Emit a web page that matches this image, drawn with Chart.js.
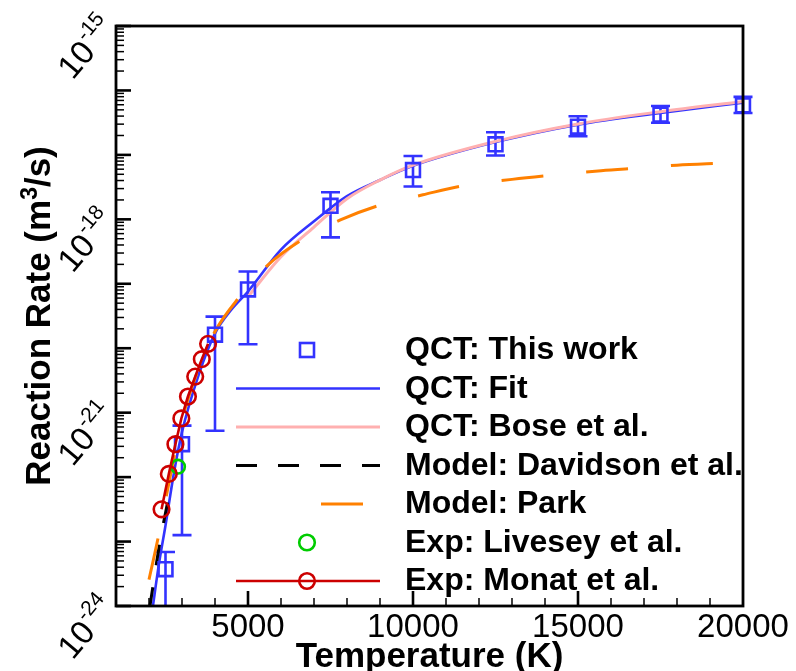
<!DOCTYPE html>
<html>
<head>
<meta charset="utf-8">
<script src="https://cdn.jsdelivr.net/npm/chart.js@4.4.1/dist/chart.umd.min.js"></script>
<style>
  html, body { margin: 0; padding: 0; background: #fff; }
  #wrap { width: 796px; height: 671px; }
</style>
</head>
<body>
<div id="wrap"><canvas id="chart" width="796" height="671"></canvas></div>
<script>
// --- data (rates in m^3/s, temperature in K) ---
const qctT  = [2500, 3000, 4000, 5000, 7500, 10000, 12500, 15000, 17500, 20000];
const qctK  = [3.72e-24, 3.24e-22, 1.62e-20, 8.18e-20, 1.62e-18, 5.82e-18, 1.46e-17, 2.74e-17, 4.21e-17, 5.89e-17];
const qctHi = [6.9e-24, 6.3e-22, 3.09e-20, 1.55e-19, 2.63e-18, 9.6e-18, 2.24e-17, 3.98e-17, 5.75e-17, 7.94e-17];
const qctLo = [5.0e-25, 1.26e-23, 5.25e-22, 1.15e-20, 5.25e-19, 3.24e-18, 9.8e-18, 1.95e-17, 3.16e-17, 4.47e-17];

const fitT = [2100, 2300, 2500, 2750, 3000, 3500, 4000, 4500, 5000, 6000, 7000, 8000, 9000, 10000, 12500, 15000, 17500, 20000];
const fitK = [8.5e-25, 4.47e-24, 1.78e-23, 1.12e-22, 5.01e-22, 3.8e-21, 1.7e-20, 3.98e-20, 7.59e-20, 3.39e-19, 9.33e-19, 2.29e-18, 4.07e-18, 6.76e-18, 1.58e-17, 2.95e-17, 4.47e-17, 6.46e-17];

const boseT = [5000, 6000, 7000, 8000, 9000, 10000, 12500, 15000, 17500, 20000];
const boseK = [6.31e-20, 2.63e-19, 7.59e-19, 2.09e-18, 4.07e-18, 6.92e-18, 1.62e-17, 3.02e-17, 4.68e-17, 6.76e-17];

const davT = [2020, 2320, 2580];
const davK = [9.33e-25, 9.12e-24, 4.47e-23];

const parkT = [2000, 2273, 2600, 3000, 3500, 4000, 4750, 5600, 6600, 7800, 9000, 10300, 11500, 13000, 14300, 15700, 17000, 18000, 19300, 20000];
const parkK = [2.57e-24, 1.12e-23, 7.94e-23, 7.59e-22, 4.79e-21, 1.82e-20, 6.31e-20, 1.95e-19, 4.68e-19, 9.77e-19, 1.66e-18, 2.4e-18, 3.31e-18, 4.17e-18, 4.9e-18, 5.69e-18, 6.31e-18, 6.92e-18, 7.41e-18, 7.67e-18];

const liveseyT = [2880];
const liveseyK = [1.45e-22];

const monatT = [2380, 2600, 2800, 2980, 3180, 3400, 3600, 3790];
const monatK = [3.16e-23, 1.12e-22, 3.24e-22, 8.13e-22, 1.78e-21, 3.63e-21, 6.76e-21, 1.17e-20];

const xMajor = [5000, 10000, 15000, 20000];
const yLabelExps = [-24, -21, -18, -15];

const legendItems = [
  "QCT: This work", "QCT: Fit", "QCT: Bose et al.", "Model: Davidson et al.",
  "Model: Park", "Exp: Livesey et al.", "Exp: Monat et al.",
];

const BLUE = "#3333ff", PINK = "#ffb0b0", ORANGE = "#ff8000", RED = "#cc0000", GREEN = "#00cc00";
const FONT = '"Liberation Sans", Arial, Helvetica, sans-serif';
const pts = (xs, ys) => xs.map((x, i) => ({ x, y: ys[i] }));

// error bars, frame, ticks, labels, legend
const decor = {
  id: "decor",
  beforeDatasetsDraw(chart) {
    const { ctx, chartArea: a, scales: { x, y } } = chart;
    ctx.save();
    ctx.beginPath();
    ctx.rect(0, a.top, chart.width, a.bottom - a.top);
    ctx.clip();
    ctx.strokeStyle = BLUE;
    ctx.lineWidth = 2.6;
    qctT.forEach((t, i) => {
      const px = x.getPixelForValue(t);
      const hi = y.getPixelForValue(qctHi[i]);
      const lo = y.getPixelForValue(qctLo[i]);
      ctx.beginPath();
      ctx.moveTo(px, hi); ctx.lineTo(px, lo);
      ctx.moveTo(px - 9.5, hi); ctx.lineTo(px + 9.5, hi);
      ctx.moveTo(px - 9.5, lo); ctx.lineTo(px + 9.5, lo);
      ctx.stroke();
    });
    ctx.restore();
  },
  afterDraw(chart) {
    const { ctx, chartArea: a, scales: { x, y } } = chart;
    ctx.save();
    // frame
    ctx.strokeStyle = "#000";
    ctx.lineWidth = 2.8;
    ctx.strokeRect(a.left, a.top, a.right - a.left, a.bottom - a.top);

    // y ticks (inward, left side)
    for (let e = -24; e <= -15; e++) {
      const py = y.getPixelForValue(Math.pow(10, e));
      ctx.lineWidth = 2.6;
      ctx.beginPath(); ctx.moveTo(a.left, py); ctx.lineTo(a.left + 15, py); ctx.stroke();
      if (e === -15) break;
      ctx.lineWidth = 1.5;
      for (let m = 2; m <= 9; m++) {
        const my = y.getPixelForValue(m * Math.pow(10, e));
        ctx.beginPath(); ctx.moveTo(a.left, my); ctx.lineTo(a.left + 8, my); ctx.stroke();
      }
    }
    // x ticks (inward, bottom side)
    for (let t = 2000; t < 20000; t += 1000) {
      const px = x.getPixelForValue(t);
      const major = t % 5000 === 0;
      ctx.lineWidth = major ? 2.6 : 1.5;
      ctx.beginPath(); ctx.moveTo(px, a.bottom); ctx.lineTo(px, a.bottom - (major ? 15 : 8)); ctx.stroke();
    }

    // x tick labels
    ctx.fillStyle = "#000";
    ctx.font = `33px ${FONT}`;
    ctx.textAlign = "center";
    ctx.textBaseline = "alphabetic";
    xMajor.forEach((t) => ctx.fillText(String(t), x.getPixelForValue(t), 637));

    // y tick labels, rotated 10^e
    yLabelExps.forEach((e) => {
      const py = y.getPixelForValue(Math.pow(10, e));
      ctx.save();
      ctx.translate(86, py + 22);
      ctx.rotate(-50 * Math.PI / 180);
      ctx.textAlign = "left";
      ctx.font = `33px ${FONT}`;
      const w1 = ctx.measureText("10").width;
      ctx.font = `21px ${FONT}`;
      const exp = String(e);
      const w2 = ctx.measureText(exp).width;
      const x0 = -(w1 + w2) / 2;
      ctx.font = `33px ${FONT}`;
      ctx.fillText("10", x0, 11);
      ctx.font = `21px ${FONT}`;
      ctx.fillText(exp, x0 + w1 + 1, -4);
      ctx.restore();
    });

    // axis titles
    ctx.font = `bold 35px ${FONT}`;
    ctx.textAlign = "center";
    ctx.fillText("Temperature (K)", (a.left + a.right) / 2, 667);

    ctx.save();
    ctx.translate(50, (a.top + a.bottom) / 2);
    ctx.rotate(-Math.PI / 2);
    ctx.textAlign = "left";
    const p1 = "Reaction Rate (m", p2 = "3", p3 = "/s)";
    ctx.font = `bold 35px ${FONT}`;
    const w1 = ctx.measureText(p1).width, w3 = ctx.measureText(p3).width;
    ctx.font = `bold 23px ${FONT}`;
    const w2 = ctx.measureText(p2).width;
    let tx = -(w1 + w2 + w3) / 2;
    ctx.font = `bold 35px ${FONT}`;
    ctx.fillText(p1, tx, 0); tx += w1;
    ctx.font = `bold 23px ${FONT}`;
    ctx.fillText(p2, tx, -13); tx += w2;
    ctx.font = `bold 35px ${FONT}`;
    ctx.fillText(p3, tx, 0);
    ctx.restore();

    // legend
    const rowBase = (i) => 359 + i * 38.5;
    ctx.font = `bold 32px ${FONT}`;
    ctx.textAlign = "left";
    legendItems.forEach((txt, i) => ctx.fillText(txt, 405, rowBase(i)));
    const ly = (i) => rowBase(i) - 9;
    const seg = (i, color, width, dash, x1 = 236, x2 = 380) => {
      ctx.save();
      ctx.strokeStyle = color; ctx.lineWidth = width; ctx.setLineDash(dash);
      ctx.beginPath(); ctx.moveTo(x1, ly(i)); ctx.lineTo(x2, ly(i)); ctx.stroke();
      ctx.restore();
    };
    ctx.strokeStyle = BLUE; ctx.lineWidth = 2.6;
    ctx.strokeRect(307 - 7, ly(0) - 7, 14, 14);
    seg(1, BLUE, 2.6, []);
    seg(2, PINK, 3, []);
    seg(3, "#000", 3, [21, 21]);
    seg(4, ORANGE, 3, [], 321, 363);
    ctx.strokeStyle = GREEN; ctx.lineWidth = 2.6;
    ctx.beginPath(); ctx.arc(307, ly(5), 7.8, 0, Math.PI * 2); ctx.stroke();
    seg(6, RED, 2.6, []);
    ctx.strokeStyle = RED; ctx.lineWidth = 2.6;
    ctx.beginPath(); ctx.arc(307, ly(6), 7.8, 0, Math.PI * 2); ctx.stroke();
    ctx.restore();
  },
};

const lineDs = (label, xs, ys, color, width, dash, order) => ({
  label, data: pts(xs, ys), borderColor: color, borderWidth: width, borderDash: dash,
  pointRadius: 0, fill: false, cubicInterpolationMode: "monotone", order,
});

new Chart(document.getElementById("chart"), {
  type: "line",
  data: {
    datasets: [
      {
        label: "Exp: Monat et al.", data: pts(monatT, monatK), borderColor: RED, borderWidth: 2.6,
        pointStyle: "circle", pointRadius: 7.8, pointBorderWidth: 2.6, pointBorderColor: RED,
        pointBackgroundColor: "rgba(0,0,0,0)", backgroundColor: "rgba(0,0,0,0)", order: 0,
      },
      {
        label: "Exp: Livesey et al.", data: pts(liveseyT, liveseyK), showLine: false,
        pointStyle: "circle", pointRadius: 6.8, pointBorderWidth: 2.6, pointBorderColor: GREEN,
        pointBackgroundColor: "rgba(0,0,0,0)", order: 1,
      },
      {
        label: "QCT: This work", data: pts(qctT, qctK), showLine: false, clip: false,
        pointStyle: "rect", pointRadius: 9.8, pointBorderWidth: 2.6, pointBorderColor: BLUE,
        pointBackgroundColor: "rgba(0,0,0,0)", order: 2,
      },
      lineDs("Model: Park", parkT, parkK, ORANGE, 3, [42, 43], 3),
      lineDs("Model: Davidson et al.", davT, davK, "#000", 3, [21, 22], 4),
      lineDs("QCT: Bose et al.", boseT, boseK, PINK, 3, [], 5),
      lineDs("QCT: Fit", fitT, fitK, BLUE, 2.6, [], 6),
    ],
  },
  options: {
    responsive: false,
    animation: false,
    devicePixelRatio: 1,
    layout: { padding: { left: 116, right: 53, top: 26, bottom: 65 } },
    plugins: { legend: { display: false }, tooltip: { enabled: false } },
    scales: {
      x: { type: "linear", min: 1000, max: 20000, display: false },
      y: { type: "logarithmic", min: 1e-24, max: 1e-15, display: false },
    },
  },
  plugins: [decor],
});
</script>
</body>
</html>
